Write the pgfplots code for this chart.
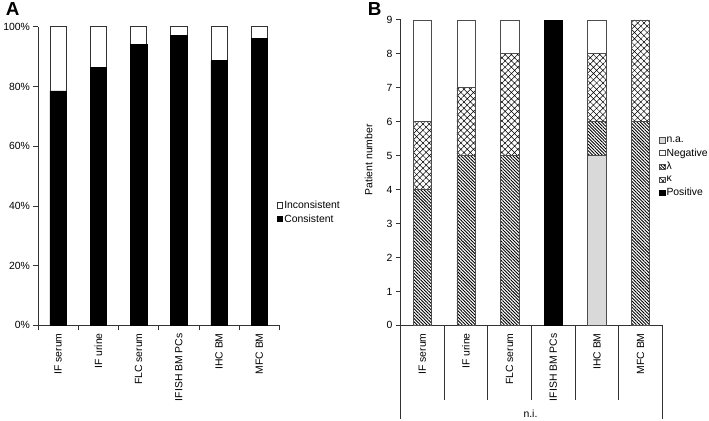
\documentclass[border=0pt]{standalone}
\usepackage{fontspec}
\setmainfont{Liberation Sans}
\usepackage{pgfplots}
\pgfplotsset{compat=1.18}
\usetikzlibrary{patterns.meta}
\pgfplotsset{
  sq/.style={legend image code/.code={\draw[##1,line width=0.5pt] (0pt,-2.6pt) rectangle (5.2pt,2.6pt);}},
  common/.style={
    scale only axis, anchor=south west,
    xmin=0.5, xmax=6.5,
    axis x line*=bottom, axis y line*=left,
    ybar stacked,
    tick align=outside,
    major tick length=4.5pt,
    major x tick style={draw=none},
    xtick={1,...,6},
    xticklabels={IF serum, IF urine, FLC serum, IFISH BM PCs, IHC BM, MFC BM},
    x tick label style={rotate=90, anchor=east, font=\fontsize{10.5}{12}\selectfont},
    y tick label style={font=\fontsize{10.5}{12}\selectfont},
    /pgf/number format/assume math mode=true,
    axis line style={line width=0.7pt, black!80},
    every tick/.style={line width=0.7pt, black!80},
    legend style={draw=none, fill=none, font=\fontsize{10.5}{12}\selectfont, inner sep=0pt, row sep=2pt,
      legend cell align=left, nodes={inner sep=1.4pt}},
    clip=false,
  },
}
\begin{document}
\begin{tikzpicture}
\path (0pt,0pt) rectangle (709pt,423pt);
\node[anchor=base west, inner sep=0pt, font=\bfseries\fontsize{19}{20}\selectfont] at (1pt,407pt) {A};
\node[anchor=base west, inner sep=0pt, font=\bfseries\fontsize{19}{20}\selectfont] at (366pt,407pt) {B};

\begin{axis}[common,
  at={(33.5pt,95pt)}, width=243.5pt, height=301pt,
  ymin=0, ymax=100,
  ytick={0,20,...,100},
  yticklabel={\pgfmathprintnumber{\tick}\%},
  minor xtick={0.5,1.5,...,6.5},
  minor tick length=5pt,
  bar width=16.5pt,
  reverse legend,
  legend style={at={(0.99,0.379)}, anchor=west},
]
\addplot[fill=black, draw=black, line width=0.5pt, sq] coordinates {(1,78.5)(2,86.5)(3,94)(4,97)(5,88.7)(6,96.2)};
\addlegendentry{Consistent}
\addplot[fill=white, draw=black!80, line width=0.6pt, sq] coordinates {(1,21.5)(2,13.5)(3,6)(4,3)(5,11.3)(6,3.8)};
\addlegendentry{Inconsistent}
\end{axis}

\begin{axis}[common,
  at={(399pt,95pt)}, width=264pt, height=308pt,
  ymin=0, ymax=9,
  ytick={0,1,...,9},
  minor xtick={1.5,2.5,...,5.5},
  minor tick length=75pt,
  bar width=18.5pt,
  legend style={at={(0.988,0.519)}, anchor=west},
]
\addlegendimage{fill=gray!30, draw=black!70, sq}
\addlegendimage{fill=white, draw=black!70, sq}
\addlegendimage{pattern={Lines[angle=-45,distance=2.3pt,line width=0.9pt]}, draw=black!70, sq}
\addlegendimage{pattern={Hatch[angle=45,distance=4.5pt,line width=0.5pt]}, draw=black!70, sq}
\addlegendimage{fill=black, draw=black, sq}
\addplot[fill=black, draw=black, line width=0.5pt, forget plot] coordinates {(1,0)(2,0)(3,0)(4,9)(5,0)(6,0)};
\addplot[fill=gray!30, draw=black!70, line width=0.6pt, forget plot] coordinates {(1,0)(2,0)(3,0)(4,0)(5,5)(6,0)};
\addplot[pattern={Lines[angle=-45,distance=2.3pt,line width=0.9pt]}, draw=black!70, line width=0.6pt, forget plot] coordinates {(1,4)(2,5)(3,5)(4,0)(5,1)(6,6)};
\addplot[pattern={Hatch[angle=45,distance=4.5pt,line width=0.5pt]}, draw=black!70, line width=0.6pt, forget plot] coordinates {(1,2)(2,2)(3,3)(4,0)(5,2)(6,3)};
\addplot[fill=white, draw=black!70, line width=0.6pt, forget plot] coordinates {(1,3)(2,2)(3,1)(4,0)(5,1)(6,0)};
\legend{n.a., Negative, λ, κ, Positive}
\draw[line width=0.7pt, black!80] (axis cs:0.5,0) -- ([yshift=-94pt]axis cs:0.5,0);
\draw[line width=0.7pt, black!80] (axis cs:6.5,0) -- ([yshift=-94pt]axis cs:6.5,0);
\end{axis}
\node[font=\fontsize{10.5}{12}\selectfont] at (530pt,6pt) {n.i.};
\node[rotate=90, font=\fontsize{10.5}{12}\selectfont] at (367pt,262pt) {Patient number};
\end{tikzpicture}
\end{document}
